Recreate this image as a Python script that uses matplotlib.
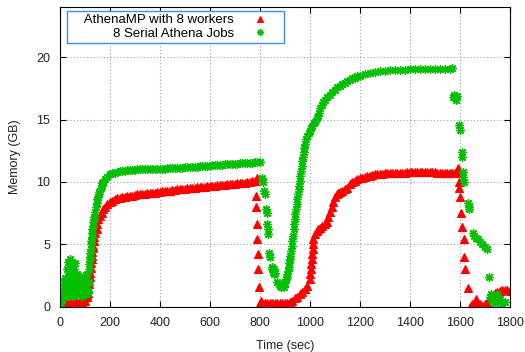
import numpy as np
import matplotlib
matplotlib.use("Agg")
import matplotlib.pyplot as plt

plt.rcParams['font.family'] = ['Liberation Sans', 'DejaVu Sans']

# AthenaMP with 8 workers (time in sec, memory in GB)
mp_t = [0, 5, 10, 15, 20, 30, 40, 50, 60, 70, 80, 90, 100, 108, 110, 112, 114, 116, 118, 120,
        122, 124, 126, 127, 128, 130, 132, 133, 135, 137, 142, 147, 150, 153, 160, 167, 173,
        180, 190, 200, 210, 220,
        230, 240, 250, 260, 270, 280, 290, 300, 310, 320, 330, 340, 350, 360, 370, 380,
        390, 400, 410, 420, 430, 440, 450, 460, 470, 480, 490, 500, 510, 520, 530, 540,
        550, 560, 570, 580, 590, 600, 610, 620, 630, 640, 650, 660, 670, 680, 690, 700,
        710, 720, 730, 740, 750, 760, 770, 780, 788,
        784, 786, 788, 790, 792, 794, 797,
        800, 805, 810, 820, 830, 840, 850, 860, 870, 880, 890, 900, 910, 920, 930, 940,
        950, 960, 970, 980, 990, 1000, 1002, 1004, 1006, 1008, 1010, 1011, 1012, 1014,
        1020, 1027, 1033, 1040,
        1050, 1060, 1067, 1073, 1080, 1087, 1093, 1100, 1107, 1113, 1120, 1130, 1140,
        1150, 1160, 1170, 1180, 1190, 1200, 1210, 1220, 1230, 1240, 1250, 1260, 1270,
        1280, 1290, 1300, 1310, 1320, 1330, 1340, 1350, 1360, 1370, 1380, 1390, 1400,
        1410, 1420, 1430, 1440, 1450, 1460, 1470, 1480, 1490, 1500, 1510, 1520, 1530,
        1540, 1550, 1560, 1570, 1580, 1590, 1593,
        1595, 1597, 1600, 1605, 1610, 1615, 1618, 1622, 1632,
        1640, 1650, 1660, 1665, 1670, 1680, 1690, 1700, 1710, 1720, 1730, 1740, 1750,
        1760, 1770, 1780, 1790, 1800]
mp_mem = [0.0, 0.1, 0.2, 0.3, 0.3, 0.3, 0.4, 0.4, 0.4, 0.4, 0.4, 0.4, 0.5, 0.8, 0.95, 1.1, 1.45, 1.8, 2.1, 2.4,
          2.75, 3.1, 3.5, 3.8, 4.1, 4.4, 4.7, 4.9, 5.3, 5.6, 5.9, 6.2, 6.6, 7.0, 7.3, 7.5, 7.8,
          8.0, 8.2, 8.4, 8.5, 8.6,
          8.7, 8.75, 8.8, 8.8, 8.85, 8.9, 8.9, 8.95, 9.0, 9.0, 9.05, 9.05, 9.1, 9.1, 9.15, 9.15,
          9.2, 9.2, 9.25, 9.25, 9.3, 9.3, 9.35, 9.35, 9.4, 9.4, 9.45, 9.45, 9.5, 9.5, 9.55, 9.55,
          9.6, 9.6, 9.62, 9.62, 9.65, 9.65, 9.7, 9.7, 9.72, 9.72, 9.75, 9.75, 9.8, 9.8, 9.85, 9.85,
          9.9, 9.9, 9.95, 9.95, 10.0, 10.0, 10.05, 10.1, 10.3,
          8.9, 8.0, 6.6, 5.4, 4.2, 3.0, 1.6,
          0.3, 0.5, 0.3, 0.3, 0.3, 0.3, 0.3, 0.3, 0.3, 0.35, 0.35, 0.3, 0.3, 0.4, 0.5, 0.7,
          0.8, 1.0, 1.2, 1.4, 1.7, 2.2, 2.6, 3.0, 3.4, 3.8, 4.2, 4.6, 5.0, 5.4,
          5.8, 6.1, 6.2, 6.3,
          6.5, 6.6, 6.8, 7.2, 7.6, 8.0, 8.4, 8.8, 9.0, 9.1, 9.2, 9.3, 9.4,
          9.5, 9.8, 10.0, 10.1, 10.2, 10.3, 10.35, 10.4, 10.45, 10.5, 10.55, 10.6, 10.62,
          10.65, 10.67, 10.7, 10.7, 10.7, 10.72, 10.72, 10.74, 10.74, 10.75, 10.75, 10.76, 10.76,
          10.77, 10.77, 10.78, 10.78, 10.8, 10.8, 10.78, 10.78, 10.76, 10.76, 10.75, 10.75, 10.75,
          10.75, 10.75, 10.75, 10.75, 10.75, 10.8, 11.1,
          10.0, 9.5, 8.8, 7.5, 6.4, 5.4, 4.0, 3.0, 1.5,
          0.0, 0.2, 0.3, 0.6, 0.4, 0.2, 0.1, 0.2, 0.4, 0.7, 0.9, 1.1, 1.2,
          1.3, 1.35, 1.35, 1.35, 1.3]

# 8 Serial Athena Jobs
ser_t = [0, 3, 6, 9, 12, 15, 18, 20, 22, 25, 25, 28, 30, 30, 33, 35, 37, 40, 40, 43,
         45, 47, 50, 50, 53, 55, 57, 60, 60, 63, 65, 67, 70, 72, 75, 77, 80, 82, 85, 87,
         90, 92, 95, 97, 100, 102, 105, 107, 110, 112, 115, 117,
         10, 16, 24, 32, 38, 44, 52, 58, 66, 74, 84, 94, 104, 114,
         118, 120, 121, 122, 124, 125, 126, 127, 129, 130, 132,
         133, 135, 138, 142, 145, 147, 150, 153, 155, 158, 163, 167, 170, 173, 180, 190, 200,
         210, 220,
         230, 240, 250, 260, 270, 280, 290, 300, 310, 320, 330, 340, 350, 360, 370, 380,
         390, 400, 410, 420, 430, 440, 450, 460, 470, 480, 490, 500, 510, 520, 530, 540,
         550, 560, 570, 580, 590, 600, 610, 620, 630, 640, 650, 660, 670, 680, 690, 700,
         710, 720, 730, 740, 750, 760, 770, 780, 790, 800,
         810, 812, 818, 820, 826, 828, 830, 832, 834, 838, 840, 848, 850, 852, 855, 858,
         860, 870, 875, 880, 885, 890, 895, 900, 905, 907, 910, 912, 915, 917, 920, 922,
         925, 927, 930, 932, 935, 937, 940, 942, 945, 947, 950, 952, 955, 957, 960, 962,
         965, 967, 970, 972, 975, 977, 980, 985, 990, 995, 1000, 1005, 1010, 1015, 1020,
         1027, 1031, 1035, 1040, 1047, 1053, 1060, 1070, 1080, 1090, 1100, 1110, 1120,
         1130, 1140,
         1150, 1160, 1170, 1180, 1190, 1200, 1220, 1240, 1260, 1280, 1300, 1320, 1340,
         1360, 1380, 1400, 1420, 1440, 1460, 1480, 1500, 1520, 1540, 1560, 1570,
         1572, 1578, 1585, 1590, 1597, 1599, 1607, 1609, 1612, 1614, 1616, 1632, 1635,
         1638, 1652, 1658, 1665, 1672, 1680, 1690, 1700, 1710, 1717, 1720, 1725, 1730,
         1740, 1750, 1760, 1770, 1780]
ser_mem = [0.0, 0.3, 0.8, 1.2, 0.9, 1.5, 2.0, 1.0, 2.3, 0.9, 1.6, 3.0, 2.2, 1.0, 3.6, 1.4, 2.8, 3.8, 0.9, 2.0,
           3.3, 1.1, 3.6, 2.5, 0.9, 1.8, 3.0, 3.5, 1.3, 2.3, 1.0, 2.6, 1.6, 2.2, 1.0, 1.9, 2.4, 1.2, 2.0, 0.9,
           1.7, 2.5, 1.0, 2.1, 1.5, 2.4, 1.0, 1.9, 2.6, 1.3, 2.0, 3.0,
           0.6, 0.9, 1.2, 1.8, 2.5, 1.5, 1.3, 2.0, 1.9, 1.4, 1.6, 1.3, 1.9, 1.1,
           3.4, 3.8, 4.0, 4.3, 4.6, 5.0, 5.3, 5.6, 5.9, 6.2, 6.5,
           6.8, 7.0, 7.2, 7.6, 8.0, 8.3, 8.6, 8.8, 9.0, 9.2, 9.5, 9.7, 9.9, 10.0, 10.2, 10.4, 10.6,
           10.7, 10.75,
           10.8, 10.85, 10.9, 10.9, 10.92, 10.95, 10.95, 10.97, 11.0, 11.0, 11.0, 11.02, 11.02, 11.03, 11.03, 11.05,
           11.05, 11.05, 11.07, 11.07, 11.08, 11.1, 11.1, 11.12, 11.12, 11.15, 11.15, 11.17, 11.18, 11.2, 11.2, 11.22,
           11.23, 11.25, 11.27, 11.28, 11.3, 11.3, 11.32, 11.33, 11.35, 11.37, 11.38, 11.4, 11.42, 11.43, 11.45, 11.45,
           11.47, 11.48, 11.5, 11.5, 11.52, 11.53, 11.55, 11.57, 11.58, 11.6,
           10.3, 10.0, 9.3, 9.0, 7.8, 7.5, 6.6, 6.2, 5.8, 4.3, 4.0, 3.2, 3.0, 2.8, 2.6, 3.0,
           2.7, 2.0, 1.8, 1.7, 1.6, 1.8, 1.6, 1.9, 2.2, 2.4, 2.6, 2.9, 3.2, 3.5, 3.8, 4.1,
           4.5, 4.9, 5.3, 5.7, 6.2, 6.6, 7.0, 7.4, 7.8, 8.2, 8.6, 9.0, 9.4, 9.7, 10.1, 10.5,
           10.9, 11.3, 11.7, 12.0, 12.4, 12.7, 13.0, 13.4, 13.7, 13.9, 14.1, 14.3, 14.5, 14.7, 14.8,
           15.1, 15.3, 15.5, 15.9, 16.2, 16.4, 16.6, 16.8, 17.0, 17.2, 17.4, 17.6, 17.7,
           17.85, 17.95,
           18.1, 18.2, 18.3, 18.35, 18.45, 18.5, 18.65, 18.75, 18.8, 18.85, 18.9, 18.95, 18.97,
           19.0, 19.0, 19.02, 19.03, 19.04, 19.05, 19.05, 19.06, 19.07, 19.08, 19.08, 19.1,
           16.8, 17.0, 16.6, 16.9, 14.6, 14.2, 12.4, 12.0, 10.8, 10.4, 10.0, 8.3, 8.0,
           7.8, 5.9, 5.7, 5.5, 5.4, 5.2, 5.0, 4.8, 4.6, 2.4, 0.8, 1.0, 0.5,
           0.3, 1.0, 0.6, 0.2, 0.4]

fig = plt.figure(figsize=(5.25, 3.52), dpi=100)
ax = fig.add_axes([0.114, 0.128, 0.857, 0.852])

ax.plot(mp_t, mp_mem, linestyle='none', marker='^', markersize=5.5,
        color='#ff0000', markeredgewidth=0.8, label='AthenaMP with 8 workers')
ax.plot(ser_t, ser_mem, linestyle='none', marker=(8, 2, 0), markersize=6,
        color='#00c000', markeredgewidth=1.0, label='8 Serial Athena Jobs')

ax.set_xlim(0, 1800)
ax.set_ylim(0, 24)
ax.set_xticks(np.arange(0, 1801, 200))
ax.set_yticks([0, 5, 10, 15, 20])
ax.tick_params(direction='in', length=4, top=True, right=True, labelsize=9, pad=7,
               labelcolor='#222222')
ax.grid(True, color='#a0a0a0', linestyle=(0, (1, 2)), linewidth=0.8)
ax.set_axisbelow(True)
ax.set_xlabel('Time (sec)', fontsize=9, labelpad=8, color='#222222')
ax.set_ylabel('Memory (GB)', fontsize=9, labelpad=11, color='#222222')

leg = ax.legend(loc='upper left', bbox_to_anchor=(0.016, 0.987), markerfirst=False,
                labels=['    AthenaMP with 8 workers', '8 Serial Athena Jobs'],
                handles=ax.get_lines(),
                prop={'size': 9.5}, frameon=True, fancybox=False, framealpha=1,
                borderpad=0.25, labelspacing=0.08, handletextpad=0.5,
                borderaxespad=0, handlelength=3.0, markerscale=0.8)
leg.get_frame().set_edgecolor('#3d8ef0')
leg.get_frame().set_linewidth(1.0)

fig.savefig('out.png', dpi=100)
